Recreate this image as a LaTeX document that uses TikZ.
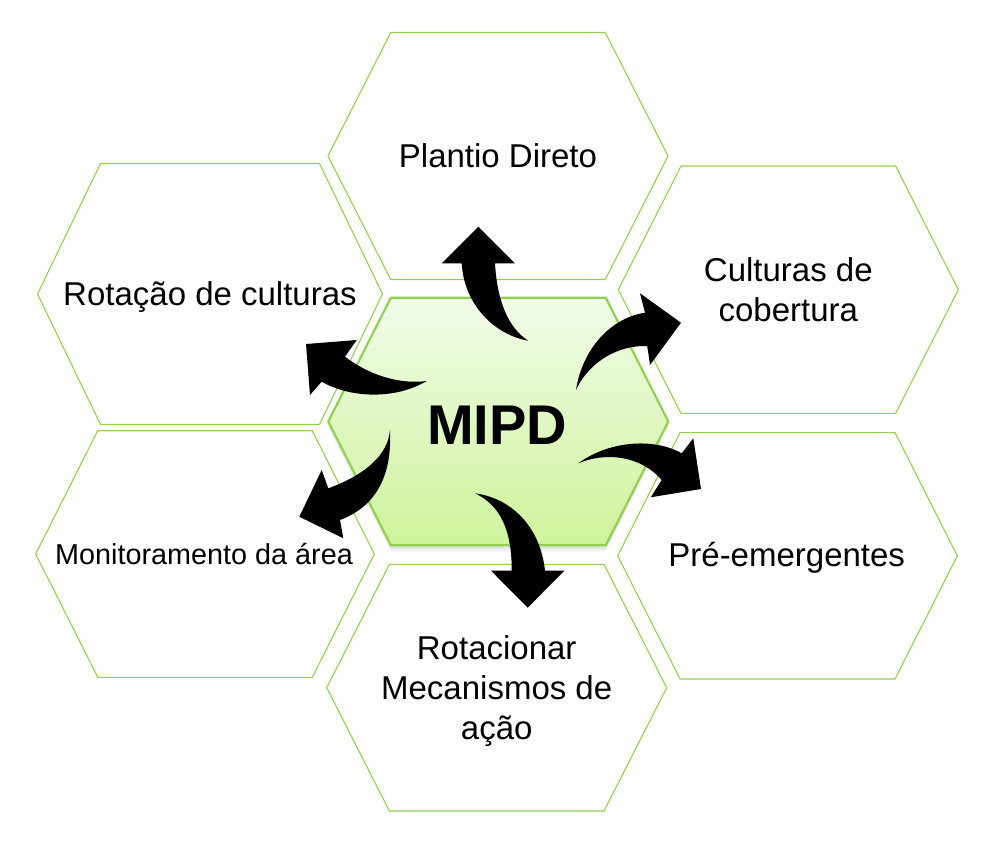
\documentclass[tikz,border=0pt]{standalone}
\usepackage{fontspec}
\setmainfont{Liberation Sans}
\definecolor{hexline}{HTML}{92D050}
\definecolor{hextop}{HTML}{F1FCE9}
\definecolor{hexbot}{HTML}{CFF39C}
\newcommand{\hexshape}[7]{%
  \coordinate (#1) at (#2,#3);
  \path[#7] ({#2-#4},#3) -- ({#2-#5},{#3-#6}) -- ({#2+#5},{#3-#6}) -- ({#2+#4},#3)
    -- ({#2+#5},{#3+#6}) -- ({#2-#5},{#3+#6}) -- cycle;
}
\tikzset{
  outerhex/.style={draw=hexline, line width=1.1pt, fill=white},
  centerhex/.style={draw=hexline, line width=2.2pt, top color=hextop, bottom color=hexbot},
  hexshadow/.style={fill=black, opacity=0.05},
  lbl/.style={font=\fontsize{33}{40}\selectfont, inner sep=0pt, anchor=base},
  smalllbl/.style={font=\fontsize{28.8}{35}\selectfont, inner sep=0pt, anchor=base},
  biglbl/.style={font=\fontsize{56}{60}\selectfont\bfseries, inner sep=0pt, anchor=base},
  blockarrow/.style={fill=black}
}
\begin{document}
\begin{tikzpicture}[x=1pt, y=-1pt]
\useasboundingbox (0,0) rectangle (994,844);
% outer hexagons
\hexshape{hT}{498}{156}{170}{107.3}{123.5}{outerhex}
\hexshape{hTL}{210}{294}{172.5}{109.5}{130.5}{outerhex}
\hexshape{hTR}{788.3}{289.7}{170}{107.3}{123.7}{outerhex}
\hexshape{hBL}{205}{554}{169.3}{107.3}{123.3}{outerhex}
\hexshape{hBR}{787.5}{555.8}{169.8}{107.5}{123.2}{outerhex}
\hexshape{hB}{496.7}{687.7}{170}{107.3}{123.3}{outerhex}
% shadow of the central hexagon
\hexshape{sh1}{498.3}{425.5}{170}{107.5}{123.7}{hexshadow}
\hexshape{sh2}{498.3}{428}{170}{107.5}{123.7}{hexshadow}
% central hexagon
\hexshape{hC}{498.3}{421.5}{170}{107.5}{123.7}{centerhex}
% labels
\node[lbl] (tP) at (498,167.7) {Plantio Direto};
\node[lbl] (tR) at (210,305.7) {Rotação de culturas};
\node[lbl] (tC1) at (788.3,281.7) {Culturas de};
\node[lbl] (tC2) at (788.3,321.7) {cobertura};
\node[smalllbl] (tM) at (204,564.3) {Monitoramento da área};
\node[lbl] (tE) at (786.7,566.7) {Pré-emergentes};
\node[lbl] (tB1) at (496.7,659) {Rotacionar};
\node[lbl] (tB2) at (496.7,699.3) {Mecanismos de};
\node[lbl] (tB3) at (496.7,739) {ação};
\node[biglbl] (tMIPD) at (497,444) {MIPD};
% curved block arrows
\fill[blockarrow] (461.7,263.3) -- (441.7,263.3) -- (478.3,226.7) -- (515,263.3) -- (495,263.3)
  .. controls (497,300) and (508,328) .. (528.3,340.7)
  .. controls (495,335) and (464,305) .. (461.7,263.3) -- cycle;
\fill[blockarrow] (645,312.7) -- (640,293.3) -- (681,322.7) -- (650,365) -- (647.3,346)
  .. controls (620,345) and (590,360) .. (576,390)
  .. controls (582,350) and (610,318) .. (645,312.7) -- cycle;
\fill[blockarrow] (345,356.7) -- (356.7,340) -- (306,344) -- (310,395) -- (321.7,381.7)
  .. controls (350,398) and (395,400) .. (426.7,381)
  .. controls (395,385) and (365,372) .. (345,356.7) -- cycle;
\fill[blockarrow] (328.3,488.3) -- (321.7,470) -- (299.3,516.7) -- (343.3,538.3) -- (340,520)
  .. controls (380,505) and (392,470) .. (390,430)
  .. controls (388,455) and (365,475) .. (328.3,488.3) -- cycle;
\fill[blockarrow] (681.7,453.3) -- (693.3,438.3) -- (701,489) -- (650.7,497.3) -- (661.7,480)
  .. controls (640,455) and (605,452) .. (578.3,463.3)
  .. controls (610,440) and (655,438) .. (681.7,453.3) -- cycle;
\fill[blockarrow] (511.7,570.7) -- (491,570.7) -- (527.7,607.7) -- (564.3,570.7) -- (545,570.7)
  .. controls (540,525) and (510,498) .. (475,493.3)
  .. controls (500,505) and (512,530) .. (511.7,570.7) -- cycle;
\end{tikzpicture}
\end{document}
